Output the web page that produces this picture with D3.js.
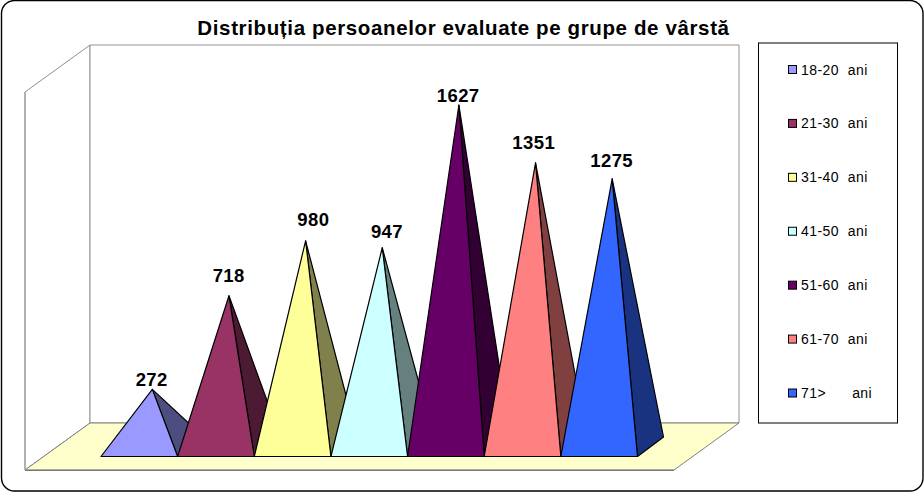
<!DOCTYPE html>
<html><head><meta charset="utf-8">
<script src="https://cdn.jsdelivr.net/npm/d3@7"></script>
<style>html,body{margin:0;padding:0;background:#fff}svg{display:block}text{font-family:"Liberation Sans",Arial,sans-serif;fill:#000}</style>
</head><body><div id="c"></div>
<script>
const categories = ["18-20  ani","21-30  ani","31-40  ani","41-50  ani","51-60  ani","61-70  ani","71>      ani"];
const values = [272,718,980,947,1627,1351,1275];
const frontColors = ["#9999FF","#993366","#FFFF99","#CCFFFF","#660066","#FF8080","#3366FF"];
const sideColors = ["#4D4D80","#4D1A33","#80804D","#668080","#330033","#804040","#1A3380"];
const titleText = "Distribuția persoanelor evaluate pe grupe de vârstă";

const W=924,H=492;
// hand-placed data label nudges seen in the original, relative to each apex
const labelNudgeX=[-0.6,-0.3,7.7,4.7,-0.7,-1.8,-0.5];
const labelNudgeY=[-3.4,-14.1,-14.8,-9.4,-3.3,-14,-11.6];
const svg=d3.select("#c").append("svg").attr("width",W).attr("height",H);
const pts=a=>a.map(p=>p.join(",")).join(" ");

svg.append("rect").attr("x",1.5).attr("y",0.5).attr("width",921.5).attr("height",490.5).attr("rx",13).attr("fill","#fff").attr("stroke","#000").attr("stroke-width",1.4);

// 3D frame
const fl=25,fr=674,fy=470,bl=90,br=739,by=423,topB=45,topF=92;
svg.append("polygon").attr("points",pts([[fl,fy],[fl,topF],[bl,topB],[bl,by]])).attr("fill","#fff").attr("stroke","#909090");
svg.append("polygon").attr("points",pts([[bl,by],[bl,topB],[br,topB],[br,by]])).attr("fill","#fff").attr("stroke","#909090");
svg.append("polygon").attr("points",pts([[fl,fy],[bl,by],[br,by],[fr,fy]])).attr("fill","#FFFFCC").attr("stroke","#808080");
svg.append("line").attr("x1",fl).attr("x2",fr).attr("y1",fy+0.3).attr("y2",fy+0.3).attr("stroke","#666");
svg.append("line").attr("x1",fl).attr("x2",fl).attr("y1",topF).attr("y2",fy).attr("stroke","#aaa").attr("stroke-width",1.5);

// Scales
const x=d3.scaleBand().domain(categories).range([101,637.5]).padding(0);
const y=d3.scaleLinear().domain([0,1627]).range([446.5,105]);
const baseY=456.5,dx=26,dy=-19.5;

const g=svg.selectAll("g.pyr").data(values).join("g").attr("class","pyr");
g.each(function(v,i){
  const s=d3.select(this),l=x(categories[i]),r=l+x.bandwidth();
  const apex=[(l+r)/2+dx/2,y(v)];
  s.append("polygon").attr("points",pts([[r,baseY],[r+dx,baseY+dy],apex])).attr("fill",sideColors[i]).attr("stroke","#000").attr("stroke-width",1.2).attr("stroke-linejoin","round");
  s.append("polygon").attr("points",pts([[l,baseY],[r,baseY],apex])).attr("fill",frontColors[i]).attr("stroke","#000").attr("stroke-width",1.2).attr("stroke-linejoin","round");
});
svg.selectAll("text.val").data(values).join("text").attr("class","val")
  .attr("x",(v,i)=>x(categories[i])+x.bandwidth()/2+dx/2+labelNudgeX[i])
  .attr("y",(v,i)=>y(v)+labelNudgeY[i]).attr("text-anchor","middle")
  .attr("font-size",18.5).attr("letter-spacing",0.4).attr("font-weight","bold").text(v=>v);

svg.append("text").attr("x",463.5).attr("y",34.5).attr("text-anchor","middle").attr("font-size",20.5).attr("letter-spacing",0.63).attr("font-weight","bold").text(titleText);

// Legend
svg.append("rect").attr("x",758.5).attr("y",43).attr("width",139).attr("height",380).attr("fill","#fff").attr("stroke","#000");
const ly=d3.scalePoint().domain(categories).range([70,393.5]);
const leg=svg.selectAll("g.leg").data(categories).join("g").attr("class","leg").attr("transform",d=>`translate(0,${ly(d)})`);
leg.append("rect").attr("x",788.5).attr("y",-4.5).attr("width",8).attr("height",8).attr("fill",(d,i)=>frontColors[i]).attr("stroke","#000");
leg.append("text").attr("x",801).attr("y",4.5).attr("font-size",14).attr("letter-spacing",0.45).style("white-space","pre").text(d=>d);
</script></body></html>
